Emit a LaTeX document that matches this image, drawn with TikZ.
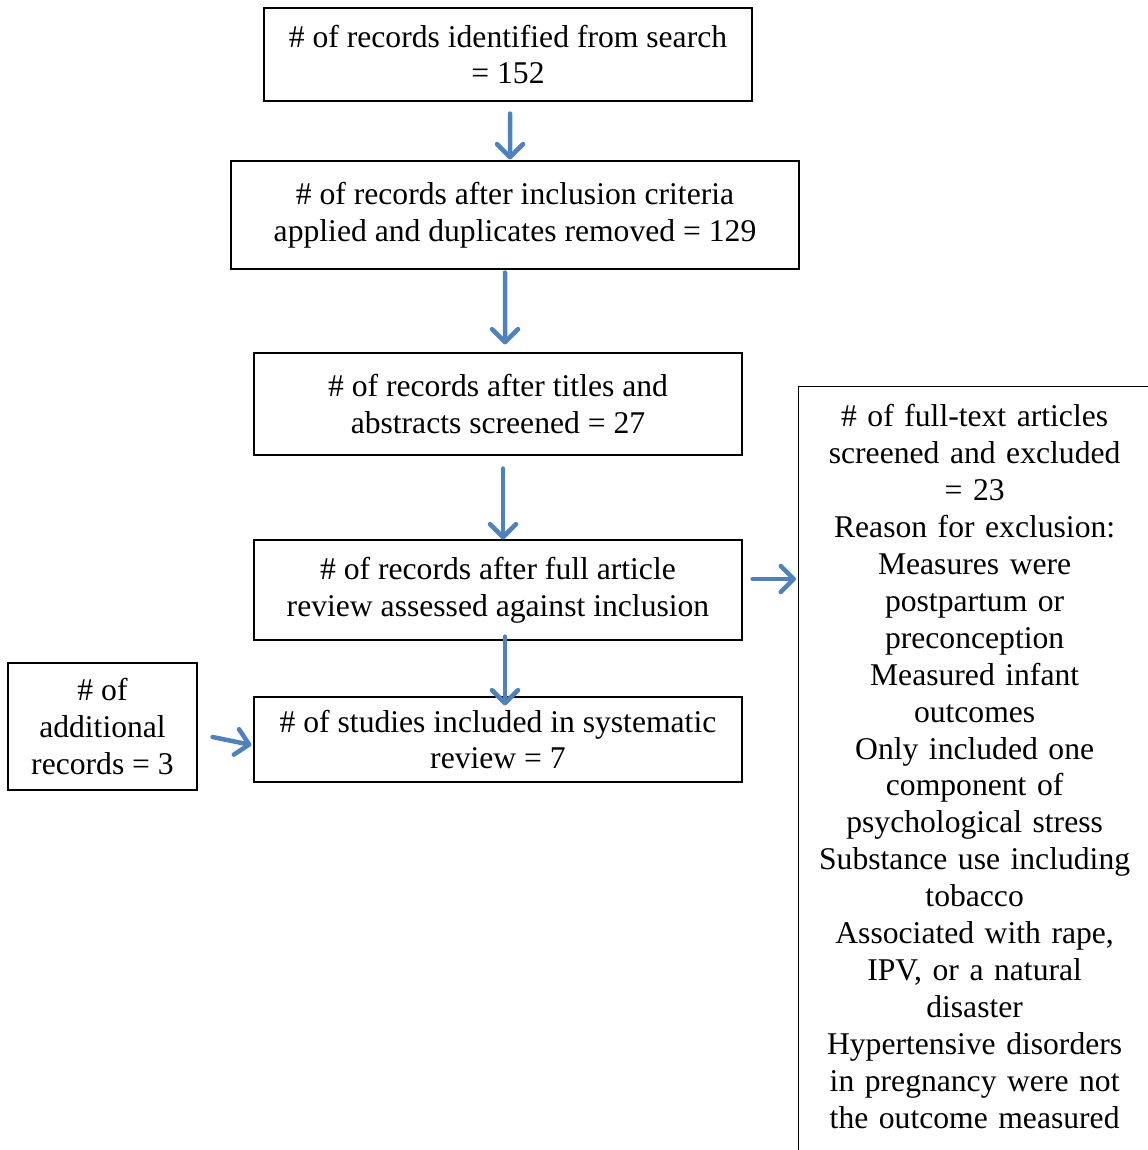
\documentclass[tikz,border=0pt]{standalone}
\usepackage{fontspec}
\setmainfont{Liberation Serif}
\usetikzlibrary{arrows.meta}
\definecolor{flowblue}{RGB}{79,129,189}
\tikzset{
  box/.style={draw, line width=0.25mm, align=center, inner sep=0pt,
    font=\fontsize{18}{21}\selectfont},
  flow/.style={flowblue, line width=0.9mm, line cap=round,
    -{Straight Barb[length=2.6mm,width=5.2mm,line cap=round,line join=round]}},
}
\begin{document}
\begin{tikzpicture}[x=0.2mm,y=-0.2mm]
		\useasboundingbox (0,0) rectangle (1148,1150);
		\clip (0,0) rectangle (1148,1150);
		%% boxes
		\node[box, minimum width=97.6mm, minimum height=18.6mm] (search) at (508,54.5)
			{\# of records identified from search\\ = 152};
		\node[box, minimum width=113.6mm, minimum height=21.6mm] (incl) at (515,215)
			{\# of records after inclusion criteria\\ applied and duplicates removed = 129};
		\node[box, minimum width=97.6mm, minimum height=20.4mm] (titles) at (498,404)
			{\# of records after titles and\\ abstracts screened = 27};
		\node[box, minimum width=97.6mm, minimum height=20mm] (full) at (498,590)
			{\# of records after full article\\ review assessed against inclusion};
		\node[box, minimum width=97.6mm, minimum height=17mm] (studies) at (498,739.5)
			{\# of studies included in systematic\\ review = 7};
		\node[box, minimum width=37.8mm, minimum height=25.4mm] (additional) at (102.5,726.5)
			{\# of\\ additional\\ records = 3};
		\node[box, anchor=north west, text width=66mm, inner xsep=2.2mm, inner ysep=3.6mm,
			text depth=147mm] (excluded) at (798,386)
			{\# of full-text articles\\ screened and excluded\\ = 23\\ Reason for exclusion:\\
			 Measures were\\ postpartum or\\ preconception\\ Measured infant\\ outcomes\\
			 Only included one\\ component of\\ psychological stress\\ Substance use including\\
			 tobacco\\ Associated with rape,\\ IPV, or a natural\\ disaster\\
			 Hypertensive disorders\\ in pregnancy were not\\ the outcome measured};
		%% arrows
		\draw[flow] ([xshift=0.4mm,yshift=-2.4mm]search.south) -- ([xshift=-1mm,yshift=0.2mm]incl.north);
		\draw[flow] ([xshift=-2mm,yshift=-0.6mm]incl.south) -- ([xshift=1.4mm,yshift=1.6mm]titles.north);
		\draw[flow] ([xshift=1mm,yshift=-2.6mm]titles.south) -- ([xshift=1mm]full.north);
		\draw[flow] ([xshift=1.4mm,yshift=0.8mm]full.south) -- ([xshift=1.4mm,yshift=-1.8mm]studies.north);
		\draw[flow] ([xshift=3mm,yshift=-2.1mm]additional.east) -- ([xshift=-0.4mm,yshift=-1.1mm]studies.west);
		\draw[flow] ([xshift=2mm,yshift=2.2mm]full.east) -- ([xshift=-0.4mm,yshift=2.2mm]full.east -| excluded.west);
\end{tikzpicture}
\end{document}
